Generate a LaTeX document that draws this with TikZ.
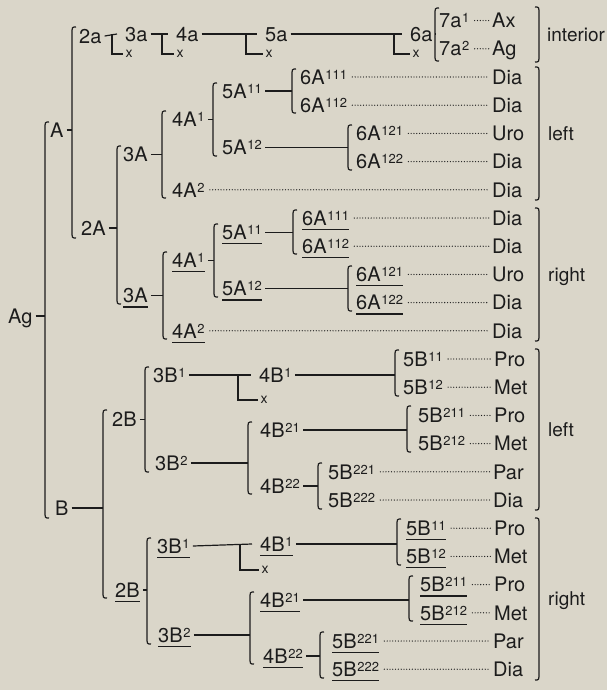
\documentclass[tikz,border=0pt]{standalone}
\usepackage{fontspec}
\setmainfont{TeX Gyre Heros}
\definecolor{bg}{RGB}{218,214,201}
\definecolor{ink}{RGB}{28,28,28}
\newcommand\sx[1]{\kern0.8pt\raisebox{5pt}{\fontsize{13}{13}\selectfont #1}}
\newcommand\brL[4]{\coordinate (#4) at (#1,#2);
  \draw[ln] ({#1+4},#2) .. controls (#1,#2) .. (#1,{#2+7}) -- (#1,{#3-7}) .. controls (#1,#3) .. ({#1+4},#3);}
\newcommand\brR[3]{\draw[ln] ({#1-4},#2) .. controls (#1,#2) .. (#1,{#2+7}) -- (#1,{#3-7}) .. controls (#1,#3) .. ({#1-4},#3);}
\newcommand\cn[2]{\draw[ln] ([xshift=3pt]#1.east) -- (#1.east -| #2);}
\newcommand\ul[1]{\draw[ln] ([yshift=-4pt]#1.south west) -- ([yshift=-4pt]#1.south east);}
\newcommand\dl[2]{\draw[dots] ([xshift=5pt]#1.east) -- ([xshift=-3pt]#2.west);}
\newcommand\tee[4]{\draw[ln] ([xshift=3pt]#1.east) -- ([xshift=-8pt]#2.west);
  \draw[ln] (#2.west -| #4) -- (#4 |- #3.west) -- ([xshift=-2pt]#3.west);}
\begin{document}
\begin{tikzpicture}[x=1pt,y=-1pt,
  lbl/.style={anchor=west, inner sep=0pt, text height=14.4pt, text depth=0pt, font=\fontsize{20}{20}\selectfont, text=ink},
  side/.style={lbl, font=\fontsize{19}{19}\selectfont},
  xm/.style={inner sep=0pt, font=\fontsize{14}{14}\selectfont, text=ink},
  ln/.style={draw=ink, line width=1.2pt},
  dots/.style={draw=ink, line width=1.3pt, line cap=round, dash pattern=on 0pt off 2.8pt}]
\fill[bg] (0,0) rectangle (607,690);
\useasboundingbox (0,0) rectangle (607,690);

% ---------- top row (interior) ----------
\node[lbl] (n2a) at (79,36) {2a};
\node[lbl] (n3a) at (125,34) {3a};
\node[xm] (x3a) at (129,54) {x};
\node[lbl] (n4a) at (176,34) {4a};
\node[xm] (x4a) at (180,54) {x};
\node[lbl] (n5a) at (265,34) {5a};
\node[xm] (x5a) at (269,54) {x};
\node[lbl] (n6a) at (410,34) {6a};
\node[xm] (x6a) at (416,54) {x};
\coordinate (v1) at (112,0); \coordinate (v2) at (162,0);
\coordinate (v3) at (246,0); \coordinate (v4) at (394,0);
\tee{n2a}{n3a}{x3a}{v1}
\tee{n3a}{n4a}{x4a}{v2}
\tee{n4a}{n5a}{x5a}{v3}
\tee{n5a}{n6a}{x6a}{v4}
\node[lbl] (n7a1) at (439,20.6) {7a\sx{1}};
\node[lbl] (n7a2) at (439,48.8) {7a\sx{2}};
\node[lbl] (tAx) at (492,20.6) {Ax};
\node[lbl] (tAg) at (492,48.8) {Ag};
\brL{435}{8}{61}{b6a}
\cn{n6a}{b6a}
\dl{n7a1}{tAx} \dl{n7a2}{tAg}
\brR{539}{7}{62}
\node[side] (lint) at (547,34.7) {interior};

% ---------- root ----------
\node[lbl] (nAg) at (8,316) {Ag};
\brL{45}{122}{518}{bAg}
\cn{nAg}{bAg}
\node[lbl] (nA) at (50,130) {A};
\brL{72}{27}{238}{bA}
\cn{nA}{bA}
\node[lbl] (nB) at (55,508) {B};
\brL{103}{410}{598}{bB}
\cn{nB}{bB}

% ---------- A left ----------
\node[lbl] (n2A) at (81,228) {2A};
\brL{117}{146}{304}{b2A}
\cn{n2A}{b2A}
\node[lbl] (n3A) at (123,154.5) {3A};
\brL{162}{111}{198}{b3A}
\cn{n3A}{b3A}
\node[lbl] (n4A1) at (172,119.3) {4A\sx{1}};
\brL{213}{83}{156}{b4A1}
\cn{n4A1}{b4A1}
\node[lbl] (n5A11) at (222,91.1) {5A\sx{11}};
\brL{292}{69}{113}{b5A11}
\cn{n5A11}{b5A11}
\node[lbl] (n5A12) at (222,147.5) {5A\sx{12}};
\brL{348}{125}{170}{b5A12}
\cn{n5A12}{b5A12}
\node[lbl] (n6A111) at (300,77) {6A\sx{111}};
\node[lbl] (n6A112) at (300,105.2) {6A\sx{112}};
\node[lbl] (n6A121) at (356,133.4) {6A\sx{121}};
\node[lbl] (n6A122) at (356,161.6) {6A\sx{122}};
\node[lbl] (n4A2) at (172,189.8) {4A\sx{2}};
\node[lbl] (t2) at (492,77) {Dia};
\node[lbl] (t3) at (492,105.2) {Dia};
\node[lbl] (t4) at (492,133.4) {Uro};
\node[lbl] (t5) at (492,161.6) {Dia};
\node[lbl] (t6) at (492,189.8) {Dia};
\dl{n6A111}{t2} \dl{n6A112}{t3} \dl{n6A121}{t4} \dl{n6A122}{t5} \dl{n4A2}{t6}
\brR{539}{67}{200}
\node[side] (lleftA) at (548,133.4) {left};

% ---------- A right ----------
\node[lbl] (u3A) at (123,295.5) {3A};
\brL{163}{252}{339}{bu3A}
\cn{u3A}{bu3A}
\node[lbl] (u4A1) at (172,260.3) {4A\sx{1}};
\brL{214}{224}{297}{bu4A1}
\cn{u4A1}{bu4A1}
\node[lbl] (u5A11) at (222,232.1) {5A\sx{11}};
\brL{293}{210}{254}{bu5A11}
\cn{u5A11}{bu5A11}
\node[lbl] (u5A12) at (222,288.5) {5A\sx{12}};
\brL{348}{266}{311}{bu5A12}
\cn{u5A12}{bu5A12}
\node[lbl] (u6A111) at (302,218) {6A\sx{111}};
\node[lbl] (u6A112) at (302,246.2) {6A\sx{112}};
\node[lbl] (u6A121) at (356,274.4) {6A\sx{121}};
\node[lbl] (u6A122) at (356,302.6) {6A\sx{122}};
\node[lbl] (u4A2) at (172,330.8) {4A\sx{2}};
\node[lbl] (t7) at (492,218) {Dia};
\node[lbl] (t8) at (492,246.2) {Dia};
\node[lbl] (t9) at (492,274.4) {Uro};
\node[lbl] (t10) at (492,302.6) {Dia};
\node[lbl] (t11) at (492,330.8) {Dia};
\dl{u6A111}{t7} \dl{u6A112}{t8} \dl{u6A121}{t9} \dl{u6A122}{t10} \dl{u4A2}{t11}
\ul{u3A} \ul{u4A1} \ul{u5A11} \ul{u5A12} \ul{u6A111} \ul{u6A112} \ul{u6A121} \ul{u6A122} \ul{u4A2}
\brR{539}{208}{341}
\node[side] (lrightA) at (548,274.4) {right};

% ---------- B left ----------
\node[lbl] (n2B) at (112,419.5) {2B};
\brL{145}{367}{472}{b2B}
\cn{n2B}{b2B}
\node[lbl] (n3B1) at (153,375) {3B\sx{1}};
\node[lbl] (n4B1) at (259,375) {4B\sx{1}};
\node[xm] (x4B1) at (264,400) {x};
\coordinate (v5) at (238,0);
\tee{n3B1}{n4B1}{x4B1}{v5}
\brL{395}{350}{396}{b4B1}
\cn{n4B1}{b4B1}
\node[lbl] (n5B11) at (403,359) {5B\sx{11}};
\node[lbl] (n5B12) at (403,387.2) {5B\sx{12}};
\node[lbl] (n3B2) at (155,463) {3B\sx{2}};
\brL{248}{422}{494}{b3B2}
\cn{n3B2}{b3B2}
\node[lbl] (n4B21) at (260,430) {4B\sx{21}};
\brL{407}{406}{452}{b4B21}
\cn{n4B21}{b4B21}
\node[lbl] (n5B211) at (418,415.4) {5B\sx{211}};
\node[lbl] (n5B212) at (418,443.6) {5B\sx{212}};
\node[lbl] (n4B22) at (260,486) {4B\sx{22}};
\brL{318}{463}{509}{b4B22}
\cn{n4B22}{b4B22}
\node[lbl] (n5B221) at (328,471.8) {5B\sx{221}};
\node[lbl] (n5B222) at (328,500) {5B\sx{222}};
\node[lbl] (t12) at (494,359) {Pro};
\node[lbl] (t13) at (494,387.2) {Met};
\node[lbl] (t14) at (494,415.4) {Pro};
\node[lbl] (t15) at (494,443.6) {Met};
\node[lbl] (t16) at (493,471.8) {Par};
\node[lbl] (t17) at (493,500) {Dia};
\dl{n5B11}{t12} \dl{n5B12}{t13} \dl{n5B211}{t14} \dl{n5B212}{t15} \dl{n5B221}{t16} \dl{n5B222}{t17}
\brR{539}{349}{510}
\node[side] (lleftB) at (548,429.5) {left};

% ---------- B right ----------
\node[lbl] (u2B) at (115,590) {2B};
\brL{147}{538}{644}{bu2B}
\cn{u2B}{bu2B}
\node[lbl] (u3B1) at (157,546) {3B\sx{1}};
\node[lbl] (u4B1) at (260,544) {4B\sx{1}};
\node[xm] (xu4B1) at (265,570) {x};
\coordinate (v6) at (240,0);
\tee{u3B1}{u4B1}{xu4B1}{v6}
\brL{397}{519}{565}{bu4B1}
\cn{u4B1}{bu4B1}
\node[lbl] (u5B11) at (406,528.2) {5B\sx{11}};
\node[lbl] (u5B12) at (406,556.4) {5B\sx{12}};
\node[lbl] (u3B2) at (158,635) {3B\sx{2}};
\brL{250}{592}{664}{bu3B2}
\cn{u3B2}{bu3B2}
\node[lbl] (u4B21) at (260,600) {4B\sx{21}};
\brL{409}{576}{621}{bu4B21}
\cn{u4B21}{bu4B21}
\node[lbl] (u5B211) at (420,584.6) {5B\sx{211}};
\node[lbl] (u5B212) at (420,612.8) {5B\sx{212}};
\node[lbl] (u4B22) at (263,656) {4B\sx{22}};
\brL{320}{632}{678}{bu4B22}
\cn{u4B22}{bu4B22}
\node[lbl] (u5B221) at (332,641) {5B\sx{221}};
\node[lbl] (u5B222) at (332,669.2) {5B\sx{222}};
\node[lbl] (t18) at (494,528.2) {Pro};
\node[lbl] (t19) at (494,556.4) {Met};
\node[lbl] (t20) at (494,584.6) {Pro};
\node[lbl] (t21) at (494,612.8) {Met};
\node[lbl] (t22) at (493,641) {Par};
\node[lbl] (t23) at (493,669.2) {Dia};
\dl{u5B11}{t18} \dl{u5B12}{t19} \dl{u5B211}{t20} \dl{u5B212}{t21} \dl{u5B221}{t22} \dl{u5B222}{t23}
\ul{u2B} \ul{u3B1} \ul{u4B1} \ul{u3B2} \ul{u4B21} \ul{u4B22} \ul{u5B11} \ul{u5B12} \ul{u5B211} \ul{u5B212} \ul{u5B221} \ul{u5B222}
\brR{539}{518}{680}
\node[side] (lrightB) at (548,598.5) {right};
\end{tikzpicture}
\end{document}
